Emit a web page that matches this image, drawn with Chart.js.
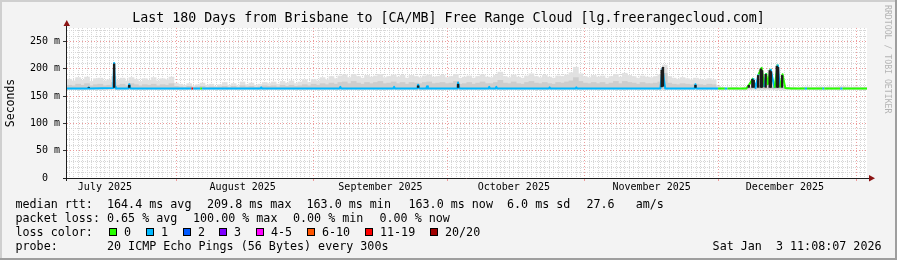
<!DOCTYPE html>
<html><head><meta charset="utf-8">
<script src="https://cdn.jsdelivr.net/npm/chart.js@4.4.1/dist/chart.umd.min.js"></script>
<style>html,body{margin:0;padding:0;background:#f3f3f3;overflow:hidden}canvas{display:block}</style>
</head><body>
<canvas id="c" width="897" height="260"></canvas>
<script>
// ---------------- data ----------------
const titleText = 'Last 180 Days from Brisbane to [CA/MB] Free Range Cloud [lg.freerangecloud.com]';
const rangeDays = 180;                 // x axis: days since Jul 7 2025 11:08
const firstMidnight = 0.536;           // first local midnight after the start (days)
const monthStarts = [24.536, 55.536, 85.536, 116.536, 146.536, 177.536];
const monthLabelDays = [8.536, 39.536, 70.536, 100.536, 131.536, 161.536];
const monthLabels = ['July 2025', 'August 2025', 'September 2025', 'October 2025', 'November 2025', 'December 2025'];
const yMax = 275;
const yTickValues = [0, 50, 100, 150, 200, 250];
const yTickLabels = ['0  ', '50 m', '100 m', '150 m', '200 m', '250 m'];
const yMinorStep = 10;

// smoke (ms), one value per day
const smokeFloor = 163;
const smokeHigh = [
  181,178,184,179,185,177,182,183,178,180,
  186,179,183,178,184,181,177,182,179,184,
  178,182,180,185,174,172,170,173,169,171,
  174,170,172,168,171,175,170,173,169,176,
  171,174,170,172,175,173,176,172,177,174,
  178,173,176,180,175,181,178,184,180,186,
  182,187,189,184,190,186,183,188,185,187,
  190,184,186,189,185,188,183,188,186,184,
  187,189,185,186,188,184,186,190,183,185,
  187,183,186,189,185,184,188,194,186,184,
  189,185,183,187,191,186,184,188,185,183,
  187,186,189,193,203,191,186,184,188,185,
  187,183,186,190,185,192,188,186,183,187,
  185,184,186,189,207,186,183,181,184,182,
  180,183,181,179,182,180,168,166,165,166,
  166,165,166,167,168,168,167,168,167,168,
  167,166,166,166,165,166,167,166,166,167,
  166,167,166,167,168,167,166,167,166,166
];
const smokeMid = [
  170,169,172,170,173,169,171,172,169,170,
  175,170,172,169,173,171,169,171,170,172,
  169,171,170,173,168,167,166,168,166,167,
  168,166,167,166,167,168,166,168,166,169,
  167,168,166,167,169,168,169,167,170,168,
  170,168,169,171,169,172,170,173,171,174,
  172,175,176,173,177,174,172,175,173,175,
  177,173,174,176,173,175,172,175,174,173,
  175,176,173,174,175,173,174,177,172,173,
  175,172,174,176,173,173,175,179,174,173,
  176,173,172,175,177,174,173,175,173,172,
  175,174,176,178,184,177,174,173,175,173,
  175,172,174,177,173,177,175,174,172,175,
  173,173,174,176,192,174,172,171,173,172,
  171,172,171,170,172,171,165,165,164,165,
  165,164,165,165,165,165,165,165,165,165,
  165,165,165,165,164,165,165,165,165,165,
  165,165,165,165,165,165,165,165,165,165
];
// dense (dark) smoke columns
const denseDay  = [4.9, 10.6, 14.0, 79.0, 88.0, 133.8, 134.1, 141.4,
  153.4, 154.2, 154.5, 155.5, 156.1, 156.4, 157.2, 158.1, 158.4, 159.7, 160.0, 160.9];
const denseLow  = [166, 166, 166, 166, 166, 167, 168, 166,
  166, 166, 166, 166, 166, 166, 166, 166, 166, 166, 166, 166];
const denseHigh = [166, 209, 170, 169, 172, 198, 203, 170,
  170, 181, 179, 188, 200, 197, 190, 197, 195, 205, 203, 188];
// median rtt (ms) and lost pings (of 20)
const medDay = [0,4.7,4.9,5.1,10.4,10.6,10.8,11.0,13.8,14.0,14.3,27.8,28.0,28.4,29.8,30.0,30.4,43.5,43.7,43.9,
  61.3,61.5,61.7,73.4,73.6,73.8,78.8,79.0,79.3,80.8,81.0,81.2,87.8,88.0,88.3,94.8,95.0,95.2,96.4,96.6,96.8,
  108.4,108.6,108.8,114.4,114.6,114.8,133.5,133.8,134.0,134.3,134.6,141.2,141.4,141.6,146.5,148.0,148.6,
  152.8,153.4,154.4,154.9,155.6,156.3,156.9,157.3,157.7,158.3,159.2,159.9,160.4,161.0,161.6,
  163.0,166.0,166.5,170.0,170.4,174.0,174.5,180.0];
const medMs = [164,164,166,164,165,211,167,164,164,172,164,164,164,164,164,164,164,164,166,164,
  164,167,164,164,167,164,164,171,164,164,168,164,164,175,164,164,167,164,164,167,164,
  164,166,164,164,166,164,164,186,201,181,164,164,172,164,164,164,164,
  164,170,183,165,190,202,167,192,172,200,165,208,166,190,165,
  164,164,164,164,164,164,164,164];
const medLoss = [1,1,1,1,1,1,1,1,1,1,1,1,19,1,1,0,1,1,1,1,
  1,1,1,1,1,1,1,1,1,1,1,1,1,1,1,1,1,1,1,1,1,
  1,1,1,1,1,1,1,1,1,1,1,1,1,1,0,1,0,
  0,0,1,1,0,0,1,0,0,1,0,1,0,0,0,
  0,1,0,1,0,1,0,0];
const lossLevels = [0, 1, 2, 3, 5, 10, 19, 20];
const lossLabels = ['0', '1', '2', '3', '4-5', '6-10', '11-19', '20/20'];
const lossColors = ['#26ff00', '#00b8ff', '#0059ff', '#7e00ff', '#ff00ff', '#ff5500', '#ff0000', '#a00000'];
const rttStats  = ['median rtt:', '164.4 ms avg', '209.8 ms max', '163.0 ms min', '163.0 ms now', '6.0 ms sd', '27.6   am/s'];
const lossStats = ['packet loss:', '0.65 % avg', '100.00 % max', '0.00 % min', '0.00 % now'];
const lossTitle = 'loss color:';
const probeRow  = ['probe:', '20 ICMP Echo Pings (56 Bytes) every 300s'];
const stampText = 'Sat Jan  3 11:08:07 2026';
const sideText  = 'RRDTOOL / TOBI OETIKER';

// ---------------- helpers ----------------
const MONO = '"DejaVu Sans Mono", monospace';
function lossColor(n) {
  for (let i = 0; i < lossLevels.length; i++) if (n <= lossLevels[i]) return lossColors[i];
  return lossColors[lossColors.length - 1];
}
const dayLines = [];
for (let d = firstMidnight; d < rangeDays; d += 1) {
  if (!monthStarts.some(m => Math.abs(m - d) < 0.01)) dayLines.push(d);
}
const yMinorTicks = [];
for (let v = yMinorStep; v < yMax; v += yMinorStep) if (v % 50 !== 0) yMinorTicks.push(v);

const smokeHighData = smokeHigh.map((v, i) => ({ x: i + 0.5, y: [smokeFloor, v] }));
const smokeMidData = smokeMid.map((v, i) => ({ x: i + 0.5, y: [smokeFloor, v] }));
const denseData = denseDay.map((d, i) => ({ x: d, y: [denseLow[i], denseHigh[i]] }));
const medianData = medDay.map((d, i) => ({ x: d, y: medMs[i] }));

// ---------------- decoration plugin ----------------
const decor = {
  id: 'decor',
  beforeDraw(chart) {
    const { ctx, chartArea: a, width, height } = chart;
    ctx.save();
    ctx.fillStyle = '#f3f3f3';
    ctx.fillRect(0, 0, width, height);
    ctx.fillStyle = '#ffffff';
    ctx.fillRect(a.left, a.top, a.right - a.left, a.bottom - a.top);
    ctx.restore();
  },
  afterDatasetsDraw(chart) {
    const { ctx, chartArea: a } = chart;
    const xb = Math.round(a.bottom) + 0.5, yl = Math.round(a.left) - 0.5;
    ctx.save();
    ctx.strokeStyle = '#1e1e1e';
    ctx.lineWidth = 1;
    ctx.beginPath();
    ctx.moveTo(a.left - 4, xb); ctx.lineTo(a.right + 3, xb);
    ctx.moveTo(yl, a.bottom + 3); ctx.lineTo(yl, a.top - 3);
    ctx.stroke();
    ctx.fillStyle = '#8b1414';
    ctx.beginPath();
    ctx.moveTo(yl - 3, a.top - 2); ctx.lineTo(yl + 3.5, a.top - 2); ctx.lineTo(yl + 0.25, a.top - 8); ctx.closePath();
    ctx.fill();
    ctx.beginPath();
    ctx.moveTo(a.right + 2, xb - 3.5); ctx.lineTo(a.right + 2, xb + 3); ctx.lineTo(a.right + 8, xb - 0.25); ctx.closePath();
    ctx.fill();
    ctx.restore();
  },
  afterDraw(chart) {
    const { ctx, width, height } = chart;
    ctx.save();
    // frame
    ctx.fillStyle = '#cfcfcf';
    ctx.fillRect(0, 0, width, 2); ctx.fillRect(0, 0, 2, height);
    ctx.fillStyle = '#9e9e9e';
    ctx.fillRect(0, height - 2, width, 2); ctx.fillRect(width - 2, 0, 2, height);
    // legend text
    ctx.fillStyle = '#000';
    ctx.font = '11.7px ' + MONO;
    ctx.textBaseline = 'alphabetic';
    ctx.textAlign = 'left';
    const rttX = [15.5, 107, 207, 306.5, 408.5, 507, 586.5];
    rttStats.forEach((t, i) => ctx.fillText(t, rttX[i], 208));
    const lossX = [15.5, 107, 193, 293, 379.5];
    lossStats.forEach((t, i) => ctx.fillText(t, lossX[i], 222));
    ctx.fillText(lossTitle, 15.5, 236);
    const boxX = [109, 146, 183, 219, 256, 307, 365, 430];
    lossLabels.forEach((t, i) => {
      ctx.fillStyle = lossColors[i];
      ctx.fillRect(boxX[i], 228, 8, 8);
      ctx.strokeStyle = '#000';
      ctx.lineWidth = 1;
      ctx.strokeRect(boxX[i] + 0.5, 228.5, 7, 7);
      ctx.fillStyle = '#000';
      ctx.fillText(t, boxX[i] + 15, 236);
    });
    ctx.fillText(probeRow[0], 15.5, 250);
    ctx.fillText(probeRow[1], 107, 250);
    ctx.textAlign = 'right';
    ctx.fillText(stampText, 881.5, 250);
    // side watermark
    ctx.translate(887, 5);
    ctx.rotate(Math.PI / 2);
    ctx.textAlign = 'left';
    ctx.textBaseline = 'middle';
    ctx.fillStyle = '#b4b4b4';
    ctx.font = '8.2px ' + MONO;
    ctx.fillText(sideText, 0, 0);
    ctx.restore();
  }
};

const minorGrid = '#d6d6d6';
const majorGrid = '#ec9a9a';

new Chart(document.getElementById('c'), {
  type: 'line',
  data: {
    datasets: [
      { type: 'bar', label: 'smoke', data: smokeHighData, backgroundColor: '#e1e1e1', barThickness: 5, grouped: false, order: 4, xAxisID: 'x', yAxisID: 'y' },
      { type: 'bar', label: 'smoke core', data: smokeMidData, backgroundColor: '#cdcdcd', barThickness: 5, grouped: false, order: 3, xAxisID: 'x', yAxisID: 'y' },
      { type: 'line', label: 'median rtt', data: medianData, borderWidth: 2, pointRadius: 0, tension: 0,
        borderJoinStyle: 'round', borderColor: lossColors[1], order: 2, xAxisID: 'x', yAxisID: 'y',
        segment: { borderColor: c => lossColor(medLoss[c.p0DataIndex]) } },
      { type: 'bar', label: 'dense smoke', data: denseData, backgroundColor: '#1c1c1c', barThickness: 1.7, grouped: false, order: 1, xAxisID: 'x', yAxisID: 'y' }
    ]
  },
  options: {
    responsive: false,
    animation: false,
    devicePixelRatio: 1,
    events: [],
    layout: { padding: { left: 0, right: 0, top: 0, bottom: 59 } },
    plugins: {
      legend: { display: false },
      tooltip: { enabled: false },
      title: { display: true, text: titleText, color: '#000',
        font: { family: MONO, size: 13.3, weight: 'normal' }, padding: { top: 11, bottom: 1 } }
    },
    scales: {
      x: { type: 'linear', position: 'bottom', min: 0, max: rangeDays, bounds: 'data', offset: false, weight: 0,
        afterBuildTicks: s => { s.ticks = dayLines.map(v => ({ value: v })); },
        ticks: { display: false },
        grid: { color: minorGrid, drawTicks: false, offset: false },
        border: { display: false, dash: [1, 1] },
        afterFit: s => { s.height = 0; } },
      xm: { type: 'linear', position: 'bottom', min: 0, max: rangeDays, bounds: 'data', offset: false, weight: 1,
        afterBuildTicks: s => { s.ticks = monthStarts.map(v => ({ value: v })); },
        ticks: { display: false },
        grid: { color: majorGrid, drawTicks: true, tickLength: 3, tickColor: majorGrid, offset: false },
        border: { display: false, dash: [1, 2] },
        afterFit: s => { s.height = 3; } },
      xl: { type: 'linear', position: 'bottom', min: 0, max: rangeDays, bounds: 'data', offset: false, weight: 2,
        afterBuildTicks: s => { s.ticks = monthLabelDays.map(v => ({ value: v })); },
        ticks: { autoSkip: false, maxRotation: 0, padding: 0, color: '#000',
          font: { family: MONO, size: 10 }, callback: (v, i) => monthLabels[i] },
        grid: { display: false, drawTicks: false },
        border: { display: false },
        afterFit: s => { s.height = 20; } },
      y: { type: 'linear', position: 'left', min: 0, max: yMax, bounds: 'data', weight: 0,
        afterBuildTicks: s => { s.ticks = yTickValues.map(v => ({ value: v })); },
        ticks: { autoSkip: false, padding: 3, color: '#000', font: { family: MONO, size: 10 },
          callback: (v, i) => yTickLabels[i] },
        grid: { color: majorGrid, drawTicks: true, tickLength: 4, tickColor: '#333' },
        border: { display: false, dash: [1, 2] },
        title: { display: true, text: 'Seconds', color: '#000', font: { family: MONO, size: 11.5 }, padding: { top: 4, bottom: 0 } },
        afterFit: s => { s.width = 67; } },
      ym: { type: 'linear', position: 'left', min: 0, max: yMax, bounds: 'data', weight: 1,
        afterBuildTicks: s => { s.ticks = yMinorTicks.map(v => ({ value: v })); },
        ticks: { display: false },
        grid: { color: minorGrid, drawTicks: false },
        border: { display: false, dash: [1, 1] },
        afterFit: s => { s.width = 0; } },
      yr: { type: 'linear', position: 'right', min: 0, max: 1,
        ticks: { display: false }, grid: { display: false, drawTicks: false }, border: { display: false },
        afterFit: s => { s.width = 30; } }
    }
  },
  plugins: [decor]
});
</script>
</body></html>
